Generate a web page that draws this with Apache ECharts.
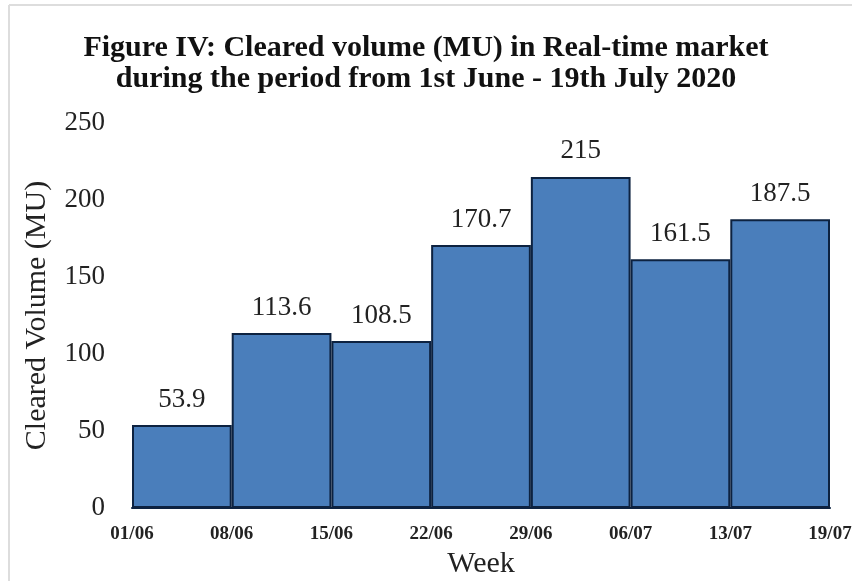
<!DOCTYPE html>
<html>
<head>
<meta charset="utf-8">
<script src="https://cdn.jsdelivr.net/npm/echarts@6/dist/echarts.min.js"></script>
<style>
  html, body { margin: 0; padding: 0; background: #fff; }
  #chart { width: 852px; height: 581px; }
</style>
</head>
<body>
<div id="chart"></div>
<script>
const weeks = ['W1', 'W2', 'W3', 'W4', 'W5', 'W6', 'W7'];
const volume = [53.9, 113.6, 108.5, 170.7, 215, 161.5, 187.5];
const weekLabels = ['01/06', '08/06', '15/06', '22/06', '29/06', '06/07', '13/07', '19/07'];

const serif = '"Liberation Serif", "Times New Roman", serif';
const chart = echarts.init(document.getElementById('chart'));

chart.setOption({
  backgroundColor: '#fff',
  animation: false,
  title: {
    text: 'Figure IV: Cleared volume (MU) in Real-time market\nduring the period from 1st June - 19th July 2020',
    left: 'center',
    top: 28,
    textStyle: {
      fontFamily: serif,
      fontWeight: 'bold',
      fontSize: 30,
      lineHeight: 31,
      color: '#111',
    },
  },
  graphic: [
    { type: 'line', shape: { x1: 9, y1: 5, x2: 852, y2: 5 }, style: { stroke: '#ddd', lineWidth: 2 } },
    { type: 'line', shape: { x1: 9, y1: 5, x2: 9, y2: 581 }, style: { stroke: '#ddd', lineWidth: 2 } },
  ],
  grid: {
    left: 132,
    right: 22,
    top: 123,
    bottom: 73,
    containLabel: false,
    outerBoundsMode: 'none',
  },
  xAxis: [
    {
      type: 'category',
      data: weeks,
      show: false,
    },
    {
      type: 'value',
      min: 0,
      max: 7,
      interval: 1,
      position: 'bottom',
      name: 'Week',
      nameLocation: 'middle',
      nameGap: 41,
      nameTextStyle: { fontFamily: serif, fontSize: 30, color: '#222' },
      axisLine: { show: true, lineStyle: { color: '#0d2240', width: 2 } },
      axisTick: { show: false },
      splitLine: { show: false },
      axisLabel: {
        showMinLabel: true,
        showMaxLabel: true,
        margin: 17,
        fontFamily: serif,
        fontWeight: 'bold',
        fontSize: 19,
        color: '#222',
        formatter: v => weekLabels[v],
      },
    },
  ],
  yAxis: {
    type: 'value',
    min: 0,
    max: 250,
    interval: 50,
    name: 'Cleared Volume (MU)',
    nameLocation: 'middle',
    nameGap: 80,
    nameTextStyle: { fontFamily: serif, fontSize: 30, color: '#222' },
    axisLine: { show: false },
    axisTick: { show: false },
    splitLine: { show: false },
    axisLabel: {
      margin: 27,
      fontFamily: serif,
      fontSize: 27,
      color: '#222',
    },
  },
  series: [
    {
      type: 'bar',
      xAxisIndex: 0,
      data: volume,
      barCategoryGap: '0%',
      itemStyle: {
        color: '#4a7ebb',
        borderColor: '#0d2240',
        borderWidth: 2,
      },
      label: {
        show: true,
        position: 'top',
        distance: 12,
        fontFamily: serif,
        fontSize: 27,
        color: '#222',
      },
    },
  ],
});
</script>
</body>
</html>
